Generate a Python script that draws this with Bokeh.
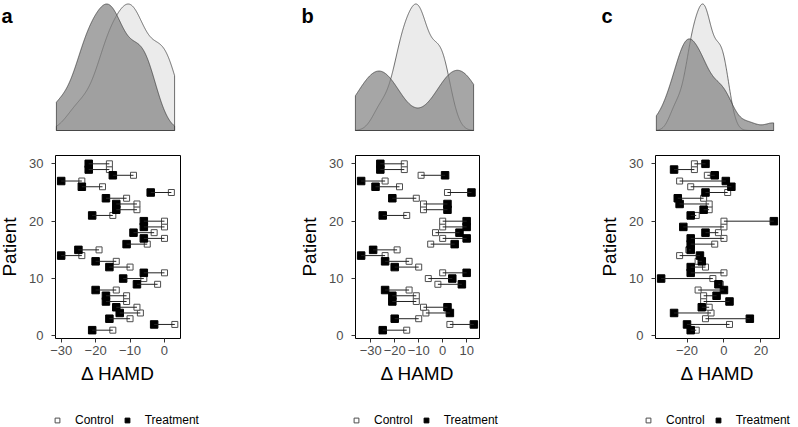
import numpy as np
from bokeh.plotting import figure
from bokeh.models import Range1d, FixedTicker, Label, Legend, LegendItem, ColumnDataSource
from bokeh.layouts import row, column
from bokeh.embed import file_html
from bokeh.resources import INLINE

# ---------------- data ----------------
patients = list(range(1, 31))
control = [-15, 3, -10, -7, -8, -11, -11, -14, -2, -6, 0, -10, -14, -24, -19,
           -5, 0, -3, 0, 0, -15, -8, -8, -11, 2, -18, -24, -9, -16, -16]
treatment_a = [-21, -3, -16, -13, -14, -17, -17, -20, -8, -12, -6, -16, -20, -30, -25,
               -11, -6, -9, -6, -6, -21, -14, -14, -17, -4, -24, -30, -15, -22, -22]
treatment_b = [-25, 13, -20, 3, 2, -21, -21, -24, 8, 4, 10, -20, -24, -34, -29,
               5, 10, 7, 10, 10, -25, 2, 2, -21, 12, -28, -34, 1, -26, -26]
treatment_c = [-18, -20, 14, -27, -12, 3, -4, 0, -3, -34, -18, -18, -12, -13, -18,
               -18, -18, -10, -22, 27, -18, -11, -24, -25, -10, 4, 1, -5, -27, -10]
panel_letters = ["a", "b", "c"]
xticks_a = [-30, -20, -10, 0]
xticks_b = [-30, -20, -10, 0, 10]
xticks_c = [-20, 0, 20]
yticks = [0, 10, 20, 30]
legend_labels = ["Control", "Treatment"]
x_title = "Δ HAMD"
y_title = "Patient"

FONT = "Liberation Sans"
DENS_H = 145
SC_H = 250
LEG_H = 32
FRAME_H = 183
TOP_B = 10


def bw_nrd0(x):
    x = np.asarray(x, float)
    sd = x.std(ddof=1)
    q75, q25 = np.percentile(x, [75, 25])
    lo = min(sd, (q75 - q25) / 1.34)
    if lo <= 0:
        lo = sd if sd > 0 else 1.0
    return 0.9 * lo * len(x) ** -0.2


def kde(x, grid):
    x = np.asarray(x, float)
    h = bw_nrd0(x)
    z = (grid[:, None] - x[None, :]) / h
    return np.exp(-0.5 * z ** 2).sum(1) / (len(x) * h * np.sqrt(2 * np.pi))


def style_points(fig, src, xcol):
    rc = fig.scatter("control", "patient", source=src, marker="square", size=6,
                     fill_color="white", line_color="#4D4D4D", line_width=1)
    rt = fig.scatter(xcol, "patient", source=src, marker="square", size=7.5,
                     fill_color="black", line_color="black")
    return rc, rt


def make_panel(letter, treat, xticks, pw, bl, fw, leg_shift=0):
    br = pw - bl - fw
    allv = np.array(control + treat, float)
    lo, hi = allv.min(), allv.max()
    pad = 0.05 * (hi - lo)
    xr = Range1d(lo - pad, hi + pad)
    yr = Range1d(1 - 0.05 * 29, 30 + 0.05 * 29)
    ppu = fw / (xr.end - xr.start)
    wide = Range1d(xr.start - bl / ppu, xr.end + br / ppu)
    src = ColumnDataSource(dict(patient=patients, control=control, treatment=treat))

    # ---- density panel (frame spans the whole panel width) ----
    grid = np.linspace(lo, hi, 512)
    dc = kde(control, grid)
    dt = kde(treat, grid)
    ymax = max(dc.max(), dt.max())
    y0 = -ymax * 15 / 126.5
    dyr = Range1d(y0, y0 + ymax * DENS_H / 126.5)
    d = figure(width=pw, height=DENS_H, x_range=wide, y_range=dyr,
               x_axis_type=None, y_axis_type=None, min_border=0,
               min_border_left=0, min_border_right=0, min_border_top=0, min_border_bottom=0,
               frame_align=False,
               toolbar_location=None, output_backend="svg", title=None)
    d.outline_line_color = None
    px = np.r_[grid[0], grid, grid[-1]]
    d.patch(px, np.r_[0, dc, 0], fill_color="#EBEBEB", line_color="#333333", line_width=0.7)
    d.patch(px, np.r_[0, dt, 0], fill_color="#808080", fill_alpha=0.7,
            line_color="#333333", line_width=0.7)
    d.add_layout(Label(x=5, y=DENS_H - 15, x_units="screen", y_units="screen", text=letter,
                       text_font=FONT, text_font_size="20px", text_font_style="bold",
                       text_baseline="alphabetic", text_color="black"))

    # ---- dumbbell panel ----
    p = figure(width=pw, height=SC_H, x_range=xr, y_range=yr, title=None,
               toolbar_location=None, output_backend="svg", frame_align=False,
               min_border_left=bl, min_border_right=br, min_border_top=TOP_B,
               min_border_bottom=SC_H - TOP_B - FRAME_H)
    style_points(p, src, "treatment")
    p.segment("control", "patient", "treatment", "patient", source=src,
              line_color="#222222", line_width=1)
    p.grid.visible = False
    p.outline_line_color = "black"
    p.outline_line_width = 1
    p.xaxis.ticker = FixedTicker(ticks=xticks)
    p.xaxis.major_label_overrides = {t: str(t).replace("-", "\u2212") for t in xticks}
    p.yaxis.ticker = FixedTicker(ticks=yticks)
    p.axis.minor_tick_line_color = None
    p.axis.major_tick_out = 4
    p.axis.major_tick_in = 0
    p.axis.major_tick_line_color = "#333333"
    p.axis.axis_line_color = None
    p.axis.major_label_text_color = "#4D4D4D"
    p.axis.major_label_text_font = FONT
    p.axis.major_label_text_font_size = "13px"
    p.xaxis.major_label_standoff = 3
    p.yaxis.major_label_standoff = 8
    p.xaxis.axis_label = x_title
    p.yaxis.axis_label = y_title
    p.axis.axis_label_text_font = FONT
    p.axis.axis_label_text_font_size = "19px"
    p.axis.axis_label_text_font_style = "normal"
    p.axis.axis_label_text_color = "black"
    p.xaxis.axis_label_standoff = 5
    p.yaxis.axis_label_standoff = 6

    # ---- legend strip (frame spans the whole panel width; data lie outside its y-range) ----
    lf = figure(width=pw, height=LEG_H, x_range=wide, y_range=Range1d(-3, -2),
                x_axis_type=None, y_axis_type=None, title=None, min_border=0,
                min_border_left=0, min_border_right=0, min_border_top=0, min_border_bottom=0,
                frame_align=False, toolbar_location=None, output_backend="svg")
    lf.outline_line_color = None
    lc, lt = style_points(lf, src, "treatment")
    leg = Legend(items=[LegendItem(label=legend_labels[0], renderers=[lc]),
                        LegendItem(label=legend_labels[1], renderers=[lt])],
                 orientation="horizontal", location=(bl + leg_shift, 0),
                 label_text_font=FONT, label_text_font_size="12px",
                 label_text_color="black", label_height=12,
                 glyph_width=14, glyph_height=12, label_standoff=11, spacing=6,
                 padding=0, margin=0, border_line_color=None,
                 background_fill_alpha=0)
    lf.add_layout(leg)
    return column(d, p, lf)


pa = make_panel(panel_letters[0], treatment_a, xticks_a, 300, 54, 130)
pb = make_panel(panel_letters[1], treatment_b, xticks_b, 300, 53, 130)
pc = make_panel(panel_letters[2], treatment_c, xticks_c, 198, 54, 129, leg_shift=-9)

root = row(pa, pb, pc, margin=(0, -8, -8, -4))

open("out.html", "w").write(file_html(root, INLINE))
